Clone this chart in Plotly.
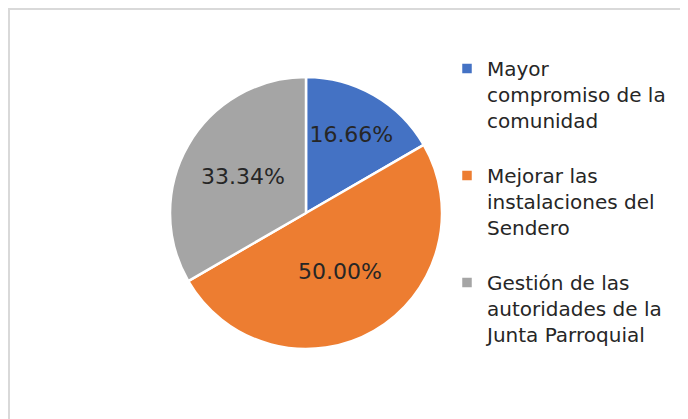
import plotly.graph_objects as go

labels = [
    "Mayor<br>compromiso de la<br>comunidad",
    "Mejorar las<br>instalaciones del<br>Sendero",
    "Gestión de las<br>autoridades de la<br>Junta Parroquial",
]
values = [16.66, 50.00, 33.34]
colors = ["#4472C4", "#ED7D31", "#A5A5A5"]

W, H = 688, 419
OFF = 8  # page body margin offset

fig = go.Figure()
fig.add_trace(go.Pie(
    labels=[l + "<br> " for l in labels],
    values=values,
    sort=False,
    direction="clockwise",
    rotation=0,
    marker=dict(colors=colors, line=dict(color="white", width=2.5)),
    texttemplate="%{value:.2f}%",
    textposition="inside",
    insidetextorientation="horizontal",
    textfont=dict(family="DejaVu Sans", size=22, color="#262626"),
    domain=dict(x=[(170 - OFF) / W, (442 - OFF) / W],
                y=[1 - (349 - OFF) / H, 1 - (77 - OFF) / H]),
    hoverinfo="label+percent",
))

fig.update_layout(
    width=W, height=H,
    margin=dict(l=0, r=0, t=0, b=0),
    paper_bgcolor="white",
    plot_bgcolor="white",
    font=dict(family="DejaVu Sans", size=20, color="#262626"),
    showlegend=True,
    legend=dict(
        x=(447 - OFF) / W, y=1 - (49 - OFF) / H, xanchor="left", yanchor="top",
        font=dict(family="DejaVu Sans", size=20, color="#262626"),
        bgcolor="rgba(0,0,0,0)",
        valign="top",
        itemwidth=30,
    ),
    shapes=[dict(
        type="rect", xref="paper", yref="paper",
        x0=1 / W, x1=1.2, y0=-0.2, y1=1 - 1 / H,
        line=dict(color="#D9D9D9", width=2),
        fillcolor="rgba(0,0,0,0)",
        layer="below",
    )],
)

fig.write_html("out.html")
